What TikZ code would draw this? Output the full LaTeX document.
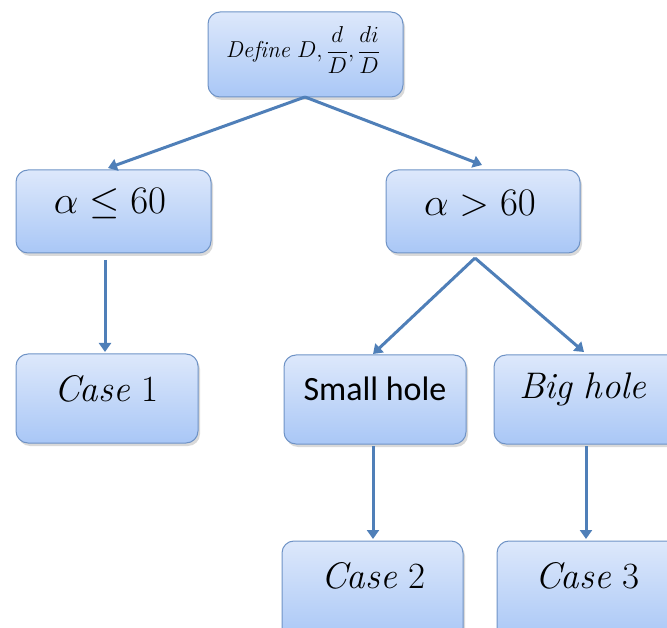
\RequirePackage{fix-cm}
\documentclass[tikz,border=0pt]{standalone}
\usepackage{fontspec}
\newfontfamily\calib{Carlito}
\usetikzlibrary{arrows.meta,shadows}
\definecolor{boxtop}{HTML}{DDE8FB}
\definecolor{boxbot}{HTML}{A9C7F6}
\definecolor{boxline}{HTML}{6F93C6}
\definecolor{arrowc}{HTML}{4F7FB8}
\tikzset{
  fbox/.style={draw=boxline, line width=1pt, rounded corners=12pt, top color=boxtop, bottom color=boxbot,
    drop shadow={shadow xshift=2pt, shadow yshift=-3pt, opacity=0.25, fill=black!60}},
  lbl/.style={anchor=center, inner sep=0pt},
  conn/.style={draw=arrowc, line width=3pt, -{Triangle[length=9pt,width=12pt]}},
}
\begin{document}
\begin{tikzpicture}[x=1pt,y=-1pt]
\useasboundingbox (0,0) rectangle (667,628);
% boxes
\path[fbox] (208,12) rectangle (403,97);
\path[fbox] (16,170) rectangle (211,253);
\path[fbox] (386,170) rectangle (580,253);
\path[fbox] (16,354) rectangle (198,443);
\path[fbox] (284,355) rectangle (466,444);
\path[fbox] (494,355) rectangle (690,444);
\path[fbox] (282,541) rectangle (463,640);
\path[fbox] (497,541) rectangle (690,640);
% labels
\node[lbl] (def) at (303,50) {\fontsize{23}{27}\selectfont$\displaystyle\mathit{Define}\ D,\frac{d}{D},\frac{di}{D}$};
\node[lbl] (le) at (110,204) {\fontsize{39}{46}\selectfont$\alpha\leq 60$};
\node[lbl] (gt) at (480,203) {\fontsize{39}{46}\selectfont$\alpha>60$};
\node[lbl] (c1) at (106,389) {\fontsize{37}{44}\selectfont$\mathit{Case}\ 1$};
\node[lbl] (sh) at (375,389) {\fontsize{34}{40}\selectfont\calib Small hole};
\node[lbl] (bh) at (583,389) {\fontsize{37}{44}\selectfont$\mathit{Big\ hole}$};
\node[lbl] (c2) at (373,576) {\fontsize{37}{44}\selectfont$\mathit{Case}\ 2$};
\node[lbl] (c3) at (587,576) {\fontsize{37}{44}\selectfont$\mathit{Case}\ 3$};
% connector anchor points
\coordinate (defB) at (305,97);
\coordinate (leT) at (108,168);
\coordinate (gtT) at (482,165);
\coordinate (leB) at (105,260);
\coordinate (c1T) at (105,352);
\coordinate (gtB) at (475,258);
\coordinate (shT) at (373,354);
\coordinate (bhT) at (584,352);
\coordinate (shB) at (373,446);
\coordinate (c2T) at (373,539);
\coordinate (bhB) at (586,446);
\coordinate (c3T) at (586,539);
\draw[conn] (defB) -- (leT);
\draw[conn] (defB) -- (gtT);
\draw[conn] (leB) -- (c1T);
\draw[conn] (gtB) -- (shT);
\draw[conn] (gtB) -- (bhT);
\draw[conn] (shB) -- (c2T);
\draw[conn] (bhB) -- (c3T);
\end{tikzpicture}
\end{document}
